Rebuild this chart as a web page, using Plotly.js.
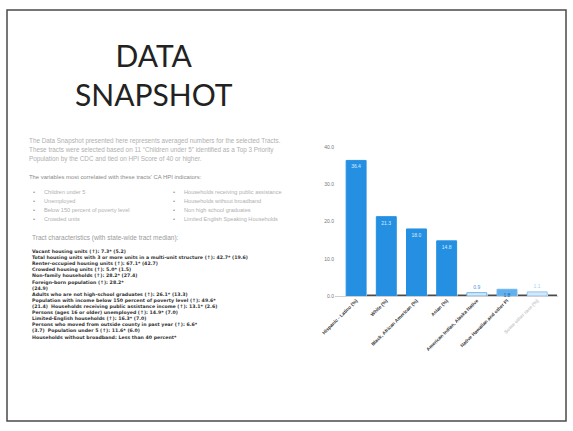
<!DOCTYPE html>
<html><head><meta charset="utf-8">
<script src="https://cdn.plot.ly/plotly-3.0.1.min.js"></script>
<style>html,body{margin:0;padding:0;background:#fff;}#c{width:573px;height:431px;}</style>
</head><body><div id="c"></div>
<script>
// ---- data ----
const categories = ["Hispanic - Latino (%)", "White (%)", "Black, African American (%)", "Asian (%)",
  "American Indian, Alaska Native", "Native Hawaiian and other PI", "Some other race (%)"];
const tractValues = [36.4, 21.3, 18.0, 14.8, 0.9, 1.8, 1.1];
const stateValues = [0.4, 0.4, 0.4, 0.4, 0.4, 0.4, 0.4];
const yTicks = [0, 10, 20, 30, 40];

const titleLines = ["DATA", "SNAPSHOT"];
const introLines = [
  "The Data Snapshot presented here represents averaged numbers for the selected Tracts.",
  "These tracts were selected based on 11 \u201cChildren under 5\u201d identified as a Top 3 Priority",
  "Population by the CDC and tied on HPI Score of 40 or higher."
];
const variablesHeader = "The variables most correlated with these tracts' CA HPI indicators:";
const bulletsLeft = ["Children under 5", "Unemployed", "Below 150 percent of poverty level", "Crowded units"];
const bulletsRight = ["Households receiving public assistance", "Households without broadband",
  "Non high school graduates", "Limited English Speaking Households"];
const tractHeader = "Tract characteristics (with state-wide tract median):";
const tractLines = [
  "Vacant housing units (\u2191): 7.3* (5.2)",
  "Total housing units with 3 or more units in a multi-unit structure (\u2191): 42.7* (19.6)",
  "Renter-occupied housing units (\u2191): 67.1* (42.7)",
  "Crowded housing units (\u2191): 5.0* (1.5)",
  "Non-family households (\u2191): 28.2* (27.4)",
  "Foreign-born population (\u2191): 28.2*",
  "(24.9)",
  "Adults who are not high-school graduates (\u2191): 26.1* (13.3)",
  "Population with income below 150 percent of poverty level (\u2191): 49.6*",
  "(21.4)  Households receiving public assistance income (\u2191): 13.1* (2.6)",
  "Persons (ages 16 or older) unemployed (\u2191): 14.9* (7.0)",
  "Limited-English households (\u2191): 16.3* (7.0)",
  "Persons who moved from outside county in past year (\u2191): 6.6*",
  "(3.7)  Population under 5 (\u2191): 11.6* (6.0)",
  "Households without broadband: Less than 40 percent*"
];

// ---- helpers ----
const W = 573, H = 431;
const px = x => x / W, py = y => 1 - y / H;
const ann = [];
function txt(text, x, y, size, color, opts) {
  ann.push(Object.assign({text: text, x: px(x), y: py(y), xref: 'paper', yref: 'paper',
    showarrow: false, xanchor: 'left', yanchor: 'middle', align: 'left',
    font: {family: 'Liberation Sans, Arial, sans-serif', size: size, color: color}}, opts || {}));
}

// title (one block, two lines)
ann.push({text: titleLines.join('<br>'), x: px(154), y: py(75), xref:'paper', yref:'paper', showarrow:false,
  xanchor:'center', yanchor:'middle', align:'center',
  font:{family:'Lato, sans-serif', size:30, color:'#222'}});

introLines.forEach((t, i) => txt(t, 27, 141 + i * 9.2, 6.35, '#b0b0b0'));
txt(variablesHeader, 27, 177, 5.9, '#8a8a8a');
bulletsLeft.forEach((t, i) => { txt('\u2022', 31, 191.5 + i * 9.3, 5.8, '#999'); txt(t, 42, 191.5 + i * 9.3, 5.6, '#b0b0b0'); });
bulletsRight.forEach((t, i) => { txt('\u2022', 171, 191.5 + i * 9.3, 5.8, '#999'); txt(t, 182, 191.5 + i * 9.3, 5.6, '#b0b0b0'); });
txt(tractHeader, 30, 238, 6.5, '#9a9a9a');
// tract characteristics: one block, bold
ann.push({text: tractLines.map(t => '<b>' + t + '</b>').join('<br>'), x: px(30), y: py(246.5),
  xref:'paper', yref:'paper', showarrow:false, xanchor:'left', yanchor:'top', align:'left',
  font:{family:'DejaVu Sans, sans-serif', size:4.7, color:'#333'}});

const tickText = categories.map((c, i) => i === 6 ? '<span style="color:#c8c8c8">' + c + '</span>' : c);

const blueFill = ['#2590e2','#2590e2','#2590e2','#2590e2','#d3e8fa','#5fb0ec','#d3e8fa'];
const blueLine = ['#2590e2','#2590e2','#2590e2','#2590e2','#6fb6ee','#6fb6ee','#8cc4f0'];
const textPos = ['inside','inside','inside','inside','outside','inside','outside'];
const textCol = ['#d8ecfb','#d8ecfb','#d8ecfb','#d8ecfb','#4a98dc','#1f5fa8','#a9d2f3'];

const data = [
  {type:'bar', x: categories.map((c,i)=>i), y: tractValues, offset: -0.33, width: 0.66,
   marker:{color: blueFill, line:{color: blueLine, width: 1}},
   text: tractValues.map(v => v.toFixed(1)), textposition: textPos, insidetextanchor: 'end',
   constraintext: 'none', cliponaxis: false,
   textfont:{size:5, color:textCol, family:'Liberation Sans, Arial, sans-serif'}, hoverinfo:'none', showlegend:false},
  {type:'bar', x: categories.map((c,i)=>i), y: stateValues, offset: 0.36, width: 0.3,
   marker:{color:'#4a4a4a'}, hoverinfo:'none', showlegend:false}
];

const layout = {
  width: W, height: H, margin:{l:0,r:0,t:0,b:0}, paper_bgcolor:'#fff', plot_bgcolor:'rgba(0,0,0,0)',
  showlegend:false, barmode:'overlay',
  xaxis:{domain:[px(335), px(558)], range:[-0.7, 6.69], tickvals: categories.map((c,i)=>i), ticktext: tickText,
    tickangle:-45, tickfont:{size:4.8, color:'#333', family:'Liberation Sans, Arial, sans-serif', weight:'bold'},
    showgrid:false, zeroline:false, showline:false, ticks:'', fixedrange:true},
  yaxis:{domain:[1-296/H, 1-147/H], range:[0, 40], tickvals: yTicks, tickformat:'.1f',
    tickfont:{size:5, color:'#777', family:'Liberation Sans, Arial, sans-serif'},
    showgrid:false, zeroline:true, zerolinecolor:'#cfcfcf', zerolinewidth:1, showline:false, ticks:'', fixedrange:true},
  annotations: ann,
  shapes:[{type:'rect', xref:'paper', yref:'paper', x0:px(7), x1:px(566), y0:py(421), y1:py(10),
    line:{color:'#4a4a4a', width:1.5}}]
};

Plotly.newPlot('c', data, layout, {staticPlot:true, displayModeBar:false});
</script></body></html>
